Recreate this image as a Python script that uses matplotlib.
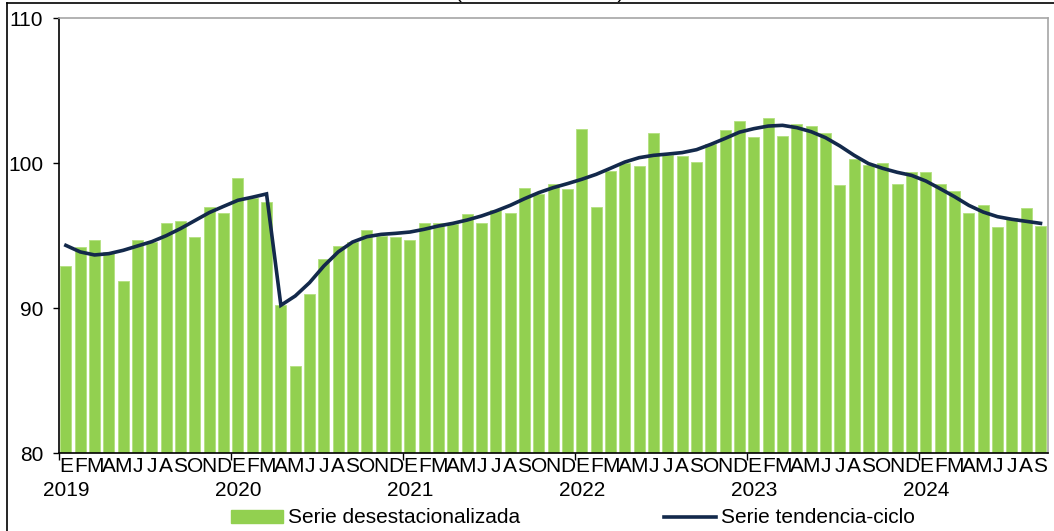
import matplotlib
matplotlib.use("Agg")
import matplotlib.pyplot as plt
import matplotlib.transforms as mtransforms
from matplotlib.patches import Patch
from matplotlib.lines import Line2D

plt.rcParams["font.family"] = ["Liberation Sans", "DejaVu Sans"]

# datos (enero 2019 - septiembre 2024)
years = ["2019", "2020", "2021", "2022", "2023", "2024"]
month_letters = ["E", "F", "M", "A", "M", "J", "J", "A", "S", "O", "N", "D"]

serie_desest = [
    92.9, 94.2, 94.7, 93.9, 91.9, 94.7, 94.6, 95.9, 96.0, 94.9, 97.0, 96.6,
    99.0, 97.6, 97.3, 90.2, 86.0, 91.0, 93.4, 94.3, 94.6, 95.4, 95.0, 94.9,
    94.7, 95.9, 95.9, 95.8, 96.5, 95.9, 96.8, 96.6, 98.3, 97.9, 98.6, 98.2,
    102.4, 97.0, 99.5, 100.0, 99.8, 102.1, 100.6, 100.5, 100.1, 101.3, 102.3, 102.9,
    101.8, 103.1, 101.9, 102.7, 102.6, 102.1, 98.5, 100.3, 99.9, 100.0, 98.6, 99.4,
    99.4, 98.6, 98.1, 96.6, 97.1, 95.6, 96.2, 96.9, 95.7,
]

serie_tendencia = [
    94.34, 93.89, 93.68, 93.77, 94.00, 94.30, 94.60, 95.01, 95.50, 96.05, 96.60, 97.03,
    97.45, 97.66, 97.89, 90.21, 90.85, 91.77, 92.92, 93.89, 94.57, 94.94, 95.10, 95.17,
    95.26, 95.45, 95.68, 95.86, 96.09, 96.37, 96.71, 97.10, 97.56, 97.98, 98.32, 98.60,
    98.90, 99.24, 99.66, 100.09, 100.39, 100.55, 100.64, 100.74, 100.94, 101.31, 101.72, 102.15,
    102.39, 102.57, 102.62, 102.46, 102.18, 101.77, 101.20, 100.55, 99.98, 99.65, 99.38, 99.17,
    98.78, 98.25, 97.70, 97.10, 96.64, 96.32, 96.14, 96.00, 95.86,
]

verde = "#92D050"
azul = "#13294B"
fs = 15

n = len(serie_desest)
x = list(range(n))
etiquetas = [month_letters[i % 12] for i in x]

fig = plt.figure(figsize=(10.54, 5.31), dpi=100)
ax = fig.add_axes([0.0557, 0.1463, 0.9383, 0.8192])

ax.bar(x, serie_desest, width=0.75, color=verde, edgecolor="#b3e07f", linewidth=0.6)
ax.plot(x, serie_tendencia, color=azul, linewidth=2.6, solid_joinstyle="miter")

ax.set_xlim(-0.5, n - 0.5)
ax.set_ylim(80, 110)
ax.set_yticks([80, 90, 100, 110])
ax.tick_params(axis="y", labelsize=fs, length=4.3, width=1, pad=7, direction="out")

# marcas entre anios (sin texto) y letras de los meses
ax.set_xticks([i - 0.5 for i in range(0, n, 12)])
ax.set_xticklabels([])
ax.tick_params(axis="x", which="major", length=5, width=1, direction="out")
ax.set_xticks(x, minor=True)
ax.set_xticklabels(etiquetas, minor=True)
ax.tick_params(axis="x", which="minor", length=0, labelsize=fs, pad=3)

trans = mtransforms.blended_transform_factory(ax.transData, ax.transAxes)
for k, anio in enumerate(years):
    ax.text(k * 12, -0.0844, anio, transform=trans, ha="center", va="center", fontsize=fs)

for lado in ["left", "bottom"]:
    ax.spines[lado].set_color("black")
    ax.spines[lado].set_linewidth(1.2)
for lado in ["top", "right"]:
    ax.spines[lado].set_color("#a6a6a6")
    ax.spines[lado].set_linewidth(1.2)

handles = [
    Patch(facecolor=verde, edgecolor=verde, label="Serie desestacionalizada"),
    Line2D([], [], color=azul, linewidth=2.6, label="Serie tendencia-ciclo"),
]
fig.legend(handles=handles, loc="center", bbox_to_anchor=(0.5435, 0.0245), ncol=2,
           frameon=False, fontsize=fs, handlelength=2.5, handleheight=0.6,
           handletextpad=0.25, columnspacing=6.9, borderpad=0)

# marco exterior y titulo cortado en la parte superior
y_top = 1 - 2.7 / 531
x_left = 7 / 1054
fig.add_artist(Line2D([x_left, x_left], [0, y_top], color="black", linewidth=1.2))
fig.add_artist(Line2D([x_left, 1], [y_top, y_top], color="black", linewidth=1.2))
fig.text(0.512, 1 + 2 / 531, "(Índice 2018=100)", ha="center", va="baseline", fontsize=fs)

fig.savefig("out.png", dpi=100)
